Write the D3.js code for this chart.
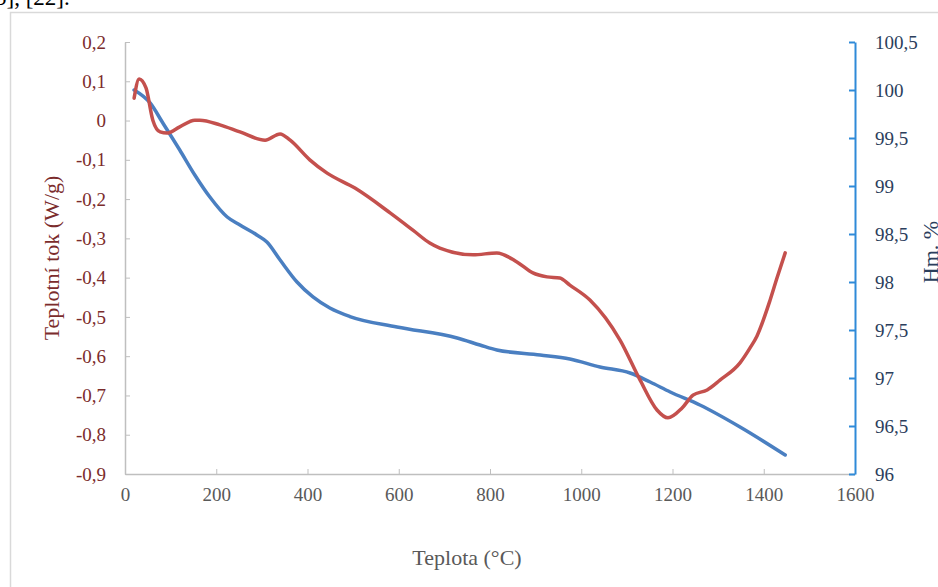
<!DOCTYPE html>
<html lang="cs">
<head>
<meta charset="UTF-8">
<title>DSC / TG</title>
<style>
  body { margin: 0; background: #fff; }
  svg text { font-family: "Liberation Serif", "Times New Roman", Tinos, "DejaVu Serif", "Noto Serif", serif !important; }
</style>
</head>
<body>
<script src="https://cdn.jsdelivr.net/npm/d3@7"></script>
<script>
// teplota (°C) a tepelný tok (W/g)
const heatTemp = [20, 31, 46, 61, 77, 92, 120, 153, 164, 208, 252, 307, 340, 362, 405, 443, 504, 581, 631, 668, 690,
                  763, 815, 859, 894, 925, 953, 975, 1019, 1085, 1129, 1166, 1190, 1221, 1245, 1276, 1304, 1348, 1370,
                  1385, 1414, 1429, 1447];
const heatFlow = [0.057, 0.106, 0.083, 0.001, -0.029, -0.032, -0.016, 0.001, 0.001, -0.011, -0.029, -0.050, -0.034, -0.050,
                  -0.100, -0.134, -0.172, -0.235, -0.279, -0.312, -0.325, -0.342, -0.337, -0.360, -0.388, -0.398, -0.401,
                  -0.419, -0.457, -0.559, -0.661, -0.737, -0.757, -0.732, -0.699, -0.686, -0.661, -0.617, -0.579,
                  -0.549, -0.457, -0.401, -0.337];
// teplota (°C) a hmotnost (%)
const massTemp = [20, 55, 83, 120, 153, 186, 224, 252, 289, 311, 340, 377, 412, 449, 493, 596, 728, 778, 815,
                  910, 975, 1041, 1107, 1151, 1195, 1260, 1348, 1447];
const massPct = [100.0, 99.865, 99.656, 99.375, 99.115, 98.885, 98.677, 98.594, 98.49, 98.417, 98.229, 98.0, 97.844,
                 97.729, 97.64, 97.531, 97.417, 97.344, 97.292, 97.24, 97.198, 97.115, 97.052, 96.958, 96.854,
                 96.719, 96.49, 96.198];

const xTicks = [0, 200, 400, 600, 800, 1000, 1200, 1400, 1600];
const leftTicks = [0.2, 0.1, 0, -0.1, -0.2, -0.3, -0.4, -0.5, -0.6, -0.7, -0.8, -0.9];
const rightTicks = [100.5, 100, 99.5, 99, 98.5, 98, 97.5, 97, 96.5, 96];

const width = 938, height = 587;
const plotL = 125, plotR = 855, plotT = 42, plotB = 474;

const fmt = d => String(Math.round(d * 10) / 10).replace('.', ',');

const svg = d3.select('body').append('svg')
    .attr('width', width)
    .attr('height', height);

// kus textu z dokumentu nad grafem
svg.append('text')
    .attr('x', -5).attr('y', 5)
    .attr('font-size', '23px')
    .attr('fill', '#000')
    .text('5], [22].');

// rámeček grafu
svg.append('path')
    .attr('d', `M10.5,${height} V12.5 H${width}`)
    .attr('fill', 'none')
    .attr('stroke', '#d9d9d9')
    .attr('stroke-width', 1.5);

const x = d3.scaleLinear().domain([0, 1600]).range([plotL, plotR]);
const yL = d3.scaleLinear().domain([-0.9, 0.2]).range([plotB, plotT]);
const yR = d3.scaleLinear().domain([96, 100.5]).range([plotB, plotT]);

// osa x
const gx = svg.append('g')
    .attr('transform', `translate(0,${plotB})`)
    .call(d3.axisBottom(x).tickValues(xTicks).tickFormat(d => String(d))
        .tickSize(-5).tickSizeOuter(0).tickPadding(14));
gx.select('.domain').attr('stroke', '#bfbfbf').attr('stroke-width', 1.5);
gx.selectAll('.tick line').attr('stroke', '#bfbfbf');
gx.selectAll('.tick text').attr('fill', '#595959').attr('font-size', '19px');

// levá osa
const gl = svg.append('g')
    .attr('transform', `translate(${plotL},0)`)
    .call(d3.axisLeft(yL).tickValues(leftTicks).tickFormat(fmt).tickSize(-5).tickSizeOuter(0).tickPadding(19));
gl.select('.domain').attr('stroke', '#bfbfbf').attr('stroke-width', 1.5);
gl.selectAll('.tick line').attr('stroke', '#bfbfbf');
gl.selectAll('.tick text').attr('fill', '#7b2c2c').attr('font-size', '19px');

// pravá osa
const gr = svg.append('g')
    .attr('transform', `translate(${plotR},0)`)
    .call(d3.axisRight(yR).tickValues(rightTicks).tickFormat(fmt).tickSize(-6).tickSizeOuter(0).tickPadding(20));
gr.select('.domain').attr('stroke', '#2f8ad8').attr('stroke-width', 2);
gr.selectAll('.tick line').attr('stroke', '#2f8ad8').attr('stroke-width', 2);
gr.selectAll('.tick text').attr('fill', '#2b3e5c').attr('font-size', '19px');

// křivky
const heatLine = d3.line()
    .x((d, i) => x(heatTemp[i]))
    .y(d => yL(d))
    .curve(d3.curveMonotoneX);

const massLine = d3.line()
    .x((d, i) => x(massTemp[i]))
    .y(d => yR(d))
    .curve(d3.curveMonotoneX);

svg.append('path')
    .datum(massPct)
    .attr('d', massLine)
    .attr('fill', 'none')
    .attr('stroke', '#4a7fc1')
    .attr('stroke-width', 3.5)
    .attr('stroke-linecap', 'round')
    .attr('stroke-linejoin', 'round');

svg.append('path')
    .datum(heatFlow)
    .attr('d', heatLine)
    .attr('fill', 'none')
    .attr('stroke', '#c4504d')
    .attr('stroke-width', 3.5)
    .attr('stroke-linecap', 'round')
    .attr('stroke-linejoin', 'round');

// popisky os
svg.append('text')
    .attr('transform', 'translate(59,258) rotate(-90)')
    .attr('text-anchor', 'middle')
    .attr('font-size', '22px')
    .attr('fill', '#7b2c2c')
    .text('Teplotní tok (W/g)');

svg.append('text')
    .attr('transform', 'translate(938,252) rotate(-90)')
    .attr('text-anchor', 'middle')
    .attr('font-size', '22px')
    .attr('fill', '#2b3e5c')
    .text('Hm. %');

svg.append('text')
    .attr('x', 467).attr('y', 565)
    .attr('text-anchor', 'middle')
    .attr('font-size', '22px')
    .attr('fill', '#595959')
    .text('Teplota (°C)');
</script>
</body>
</html>
